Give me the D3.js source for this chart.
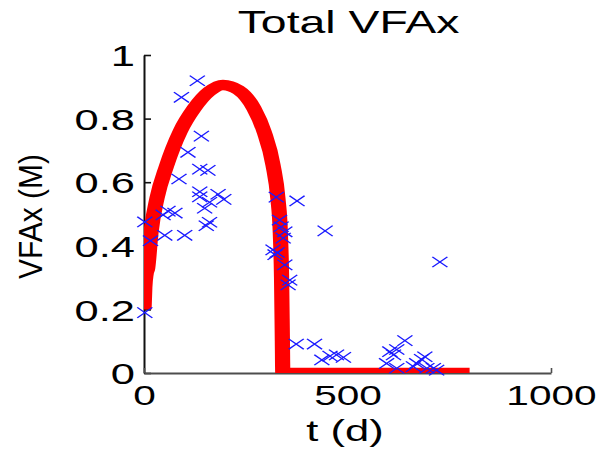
<!DOCTYPE html>
<html>
<head>
<meta charset="utf-8">
<script src="https://cdn.jsdelivr.net/npm/d3@7"></script>
<style>
  html, body { margin: 0; padding: 0; background: #fff; }
  svg { display: block; }
  text { font-family: "Liberation Sans", Arial, Helvetica, sans-serif; fill: #000; }
</style>
</head>
<body>
<svg id="chart" width="599" height="449"></svg>
<script>
// Model curve: total VFA concentration over time
const modelT = [0, 2, 5, 9, 17, 32, 55, 89, 123, 160, 194, 232, 270, 295, 317, 329, 335, 338, 340, 341, 800];
const modelV = [0.20, 0.27, 0.31, 0.33, 0.44, 0.55, 0.65, 0.76, 0.832, 0.885, 0.906, 0.89, 0.832, 0.759, 0.654, 0.549, 0.44, 0.30, 0.10, 0.0, 0.0];

// Measured samples
const obsT = [131, 92, 141, 108, 137, 157, 86, 137, 182, 196, 137, 149, 161, 161, 153,
              2, 51, 100, 16, 2, 59, 76, 47,
              325, 376, 333, 337, 346, 342, 317, 322, 327, 346, 358, 354,
              374, 419, 445, 727, 437, 457, 473, 490, 641, 604, 621, 613, 596, 621, 662, 682, 690, 670, 695, 711, 719];
const obsV = [0.919, 0.867, 0.745, 0.694, 0.641, 0.637, 0.610, 0.570, 0.562, 0.546, 0.554, 0.518, 0.537, 0.474, 0.463,
              0.475, 0.433, 0.433, 0.416, 0.190, 0.509, 0.503, 0.497,
              0.553, 0.541, 0.481, 0.460, 0.444, 0.424, 0.387, 0.372, 0.379, 0.340, 0.292, 0.277,
              0.091, 0.091, 0.447, 0.349, 0.041, 0.053, 0.057, 0.049, 0.102, 0.067, 0.074, 0.057, 0.030, 0.015, 0.020, 0.043, 0.051, 0.030, 0.015, 0.015, 0.009];

const xTicks = [0, 500, 1000];
const yTicks = [0, 0.2, 0.4, 0.6, 0.8, 1];

const titleText = "Total VFAx";
const xLabel = "t (d)";
const yLabel = "VFAx (M)";

// ---- layout ----
const svg = d3.select("#chart");
const X0 = 144, X1 = 551, Y0 = 373, Y1 = 55;
const S = 1.45; // horizontal glyph/marker widening

const x = d3.scaleLinear().domain([0, 1000]).range([X0, X1]);
const y = d3.scaleLinear().domain([0, 1]).range([Y0, Y1]);
// local x scale used inside the widened plot group
const xl = d3.scaleLinear().domain([0, 1000]).range([0, (X1 - X0) / S]);

// ---- axes ----
const gy = svg.append("g")
  .attr("transform", `translate(${X0},0)`)
  .call(d3.axisLeft(y).tickValues(yTicks).tickSize(-7).tickSizeOuter(0).tickFormat(d3.format("~g")));
gy.select(".domain").attr("stroke", "#111").attr("stroke-width", 2);
gy.selectAll(".tick line").attr("stroke", "#111").attr("stroke-width", 1.6);
gy.selectAll(".tick text")
  .attr("x", 0).attr("dy", null)
  .attr("text-anchor", "end")
  .attr("font-size", 30)
  .attr("font-family", null)
  .attr("transform", `translate(-9,10.7) scale(${S},1)`);

const gx = svg.append("g")
  .attr("transform", `translate(0,${Y0})`)
  .call(d3.axisBottom(x).tickValues(xTicks).tickSize(-5).tickSizeOuter(0).tickFormat(d3.format("d")));
gx.select(".domain").attr("stroke", "#4d4d4d").attr("stroke-width", 2);
gx.selectAll(".tick line").attr("stroke", "#4d4d4d").attr("stroke-width", 1.6);
gx.selectAll(".tick text")
  .attr("y", 0).attr("dy", null)
  .attr("text-anchor", "middle")
  .attr("font-size", 28)
  .attr("font-family", null)
  .attr("transform", `translate(0,32) scale(${S},1)`);
svg.selectAll(".tick text").attr("fill", "#000");

// ---- plot area (widened horizontally) ----
const plot = svg.append("g").attr("transform", `translate(${X0},0) scale(${S},1)`);
plot.append("clipPath").attr("id", "clip")
  .append("rect")
  .attr("x", 0).attr("y", Y1)
  .attr("width", (X1 - X0) / S).attr("height", Y0 - Y1);

const inner = plot.append("g").attr("clip-path", "url(#clip)");

const modelPts = modelT.map((t, i) => [t, modelV[i]]);
const line = d3.line()
  .x(d => xl(d[0]))
  .y(d => y(d[1]))
  .curve(d3.curveMonotoneX);

inner.append("path")
  .datum(modelPts)
  .attr("d", line)
  .attr("fill", "none")
  .attr("stroke", "#ff0000")
  .attr("stroke-width", 10.5)
  .attr("stroke-linejoin", "round")
  .attr("stroke-linecap", "butt");

const r = 5.2;
const obsPts = obsT.map((t, i) => [t, obsV[i]]);
plot.append("g").selectAll("path")
  .data(obsPts)
  .join("path")
  .attr("transform", d => `translate(${xl(d[0])},${y(d[1])})`)
  .attr("d", `M${-r},${-r}L${r},${r}M${-r},${r}L${r},${-r}`)
  .attr("fill", "none")
  .attr("stroke", "#1a1aff")
  .attr("stroke-width", 1.1);

// ---- titles ----
svg.append("text")
  .attr("text-anchor", "middle")
  .attr("font-size", 32)
  .attr("transform", `translate(${(X0 + X1) / 2 + 1},33) scale(${S},1)`)
  .text(titleText);

svg.append("text")
  .attr("text-anchor", "middle")
  .attr("font-size", 30)
  .attr("transform", `translate(345,441) scale(${S},1)`)
  .text(xLabel);

svg.append("text")
  .attr("text-anchor", "middle")
  .attr("font-size", 30)
  .attr("transform", `translate(42,216.5) rotate(-90) scale(1,1.1)`)
  .text(yLabel);
</script>
</body>
</html>
